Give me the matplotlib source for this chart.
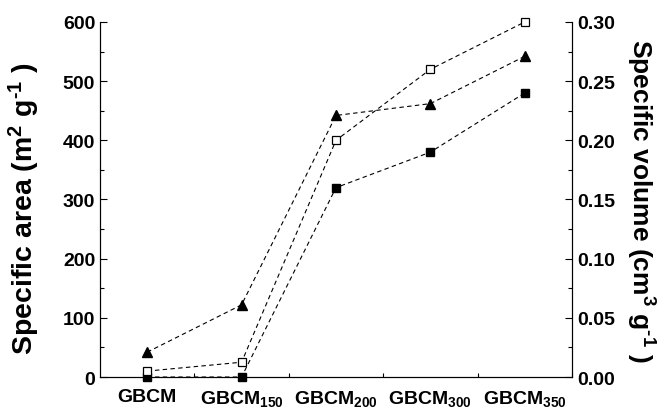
import matplotlib
matplotlib.use("Agg")
import matplotlib.pyplot as plt
import numpy as np

# sample names and measured values
samples = ["GBCM", "GBCM$_{150}$", "GBCM$_{200}$", "GBCM$_{300}$", "GBCM$_{350}$"]
area_filled = [0, 0, 320, 380, 480]        # m2/g, filled squares
area_open = [10, 25, 400, 520, 600]        # m2/g, open squares
volume = [0.021, 0.061, 0.221, 0.231, 0.271]  # cm3/g, triangles

plt.rcParams["font.family"] = ["Liberation Sans", "DejaVu Sans"]
plt.rcParams["font.weight"] = "bold"
plt.rcParams["mathtext.fontset"] = "custom"
plt.rcParams["mathtext.rm"] = "Liberation Sans:bold"
plt.rcParams["mathtext.it"] = "Liberation Sans:bold"
plt.rcParams["mathtext.bf"] = "Liberation Sans:bold"
plt.rcParams["mathtext.default"] = "rm"

fig = plt.figure(figsize=(6.64, 4.10), dpi=100)
ax = fig.add_axes([0.1506, 0.078, 0.7108, 0.866])
ax2 = ax.twinx()

x = np.arange(len(samples))
style = dict(color="black", linestyle=(0, (4, 3)), linewidth=0.8, clip_on=False)

ax.plot(x, area_filled, marker="s", markersize=5.5, markerfacecolor="black",
        markeredgecolor="black", **style)
ax.plot(x, area_open, marker="s", markersize=5.5, markerfacecolor="white",
        markeredgecolor="black", markeredgewidth=0.9, **style)
ax2.plot(x, volume, marker="^", markersize=7.5, markerfacecolor="black",
         markeredgecolor="black", **style)

ax.set_xlim(-0.5, 4.5)
ax.set_ylim(0, 600)
ax2.set_ylim(0, 0.30)

ax.set_xticks(x)
ax.set_xticklabels(samples)
ax.set_xticks(x + 0.5, minor=True)
ax.set_yticks(np.arange(0, 601, 100))
ax.set_yticks(np.arange(50, 600, 100), minor=True)
ax2.set_yticks(np.arange(0, 0.301, 0.05))
ax2.set_yticks(np.arange(0.025, 0.3, 0.05), minor=True)
ax2.set_yticklabels(["%.2f" % v for v in np.arange(0, 0.301, 0.05)])

for a in (ax, ax2):
    a.tick_params(which="major", direction="in", length=5, width=0.8, labelsize=14)
    a.tick_params(which="minor", direction="in", length=3, width=0.8)
    for s in a.spines.values():
        s.set_linewidth(0.8)
ax.tick_params(axis="x", which="major", length=0, pad=8, labelsize=14)
ax.spines["top"].set_visible(False)
ax2.spines["top"].set_visible(False)

ax.set_ylabel("Specific area (m$^{2}$ g$^{\u2010 1}$ )", fontsize=20.5, fontweight="bold")
ax.yaxis.set_label_coords(-0.123, 0.476)
ax2.set_ylabel("Specific volume (cm$^{3}$ g$^{\u2010 1}$ )", fontsize=19, fontweight="bold",
               rotation=270, labelpad=30)

fig.savefig("out.png", dpi=100)
